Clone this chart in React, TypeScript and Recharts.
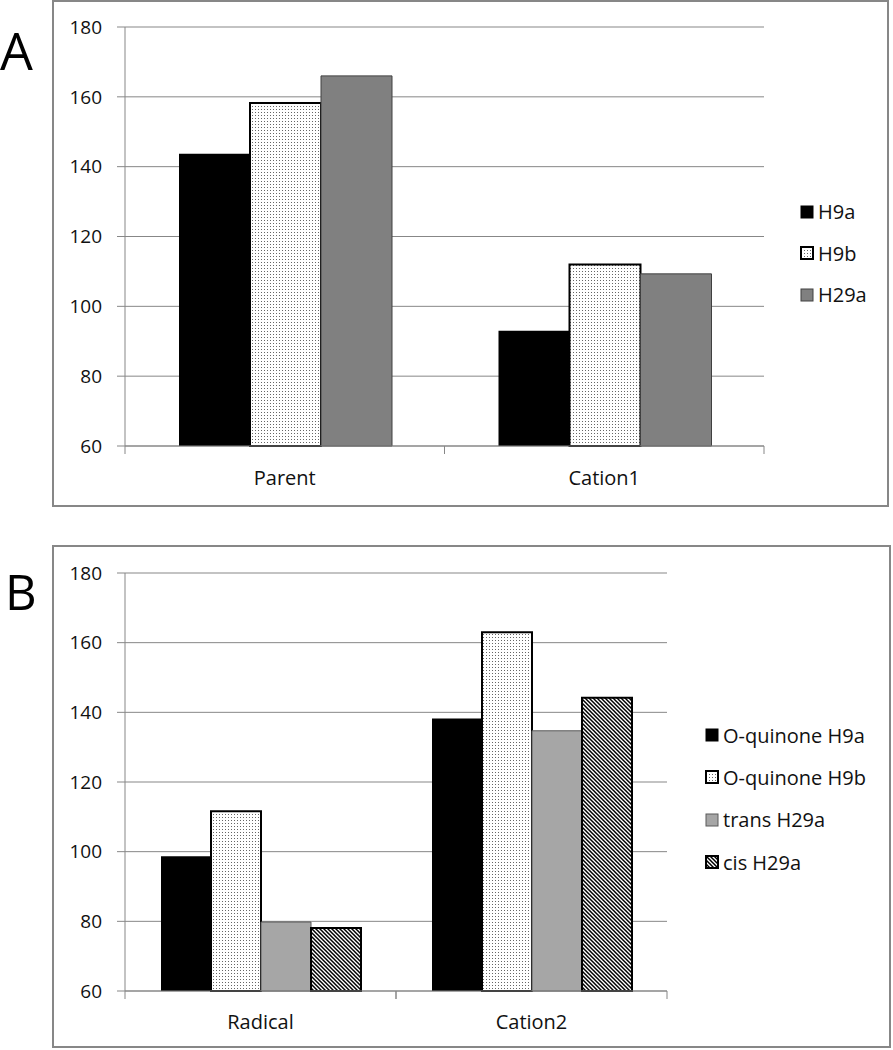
import { BarChart, Bar, XAxis, YAxis, CartesianGrid, Legend } from "recharts";

// panel A
const categoriesA = ["Parent", "Cation1"];
const h9aValues = [143.7, 93.0];
const h9bValues = [158.2, 112.0];
const h29aValues = [166.0, 109.3];

// panel B
const categoriesB = ["Radical", "Cation2"];
const oqH9aValues = [98.7, 138.2];
const oqH9bValues = [111.6, 163.0];
const transH29aValues = [79.8, 134.7];
const cisH29aValues = [78.1, 144.2];

const yTicks = [60, 80, 100, 120, 140, 160, 180];

const dataA = categoriesA.map((c, i) => ({
  name: c,
  h9a: h9aValues[i],
  h9b: h9bValues[i],
  h29a: h29aValues[i],
}));

const dataB = categoriesB.map((c, i) => ({
  name: c,
  oqH9a: oqH9aValues[i],
  oqH9b: oqH9bValues[i],
  trans: transH29aValues[i],
  cis: cisH29aValues[i],
}));

type Series = {
  key: string;
  name: string;
  fill: string;
  stroke: string;
  strokeWidth: number;
};

const seriesA: Series[] = [
  { key: "h9a", name: "H9a", fill: "#000000", stroke: "none", strokeWidth: 0 },
  { key: "h9b", name: "H9b", fill: "url(#dots)", stroke: "#000000", strokeWidth: 2 },
  { key: "h29a", name: "H29a", fill: "#808080", stroke: "#404040", strokeWidth: 1 },
];

const seriesB: Series[] = [
  { key: "oqH9a", name: "O-quinone H9a", fill: "#000000", stroke: "none", strokeWidth: 0 },
  { key: "oqH9b", name: "O-quinone H9b", fill: "url(#dots)", stroke: "#000000", strokeWidth: 2 },
  { key: "trans", name: "trans H29a", fill: "#a6a6a6", stroke: "#5a5a5a", strokeWidth: 1 },
  { key: "cis", name: "cis H29a", fill: "url(#hatch)", stroke: "#000000", strokeWidth: 2 },
];

const axisColor = "#878787";
const textColor = "#111111";

function CategoryTick(props: any) {
  const { x, y, payload, width, visibleTicksCount, labelOffset } = props;
  const half = width / (visibleTicksCount || 2) / 2;
  return (
    <g>
      <line x1={x - half} x2={x - half} y1={y} y2={y + 8} stroke={axisColor} />
      <line x1={x + half} x2={x + half} y1={y} y2={y + 8} stroke={axisColor} />
      <text
        x={x}
        y={y + labelOffset}
        textAnchor="middle"
        dominantBaseline="central"
        fontSize={20}
        fill={textColor}
      >
        {payload.value}
      </text>
    </g>
  );
}

function makeLegend(series: Series[], itemHeight: number) {
  return () => (
    <div>
      {series.map((s) => (
        <div
          key={s.key}
          style={{ display: "flex", alignItems: "center", height: itemHeight }}
        >
          <svg width={14} height={14}>
            <rect
              x={1}
              y={1}
              width={12}
              height={12}
              fill={s.fill}
              stroke={s.stroke === "none" ? s.fill : s.stroke}
              strokeWidth={s.strokeWidth || 1}
            />
          </svg>
          <span
            style={{ marginLeft: 4, fontSize: 20, color: textColor, whiteSpace: "nowrap" }}
          >
            {s.name}
          </span>
        </div>
      ))}
    </div>
  );
}

export default function App() {
  return (
    <div
      style={{
        position: "absolute",
        left: 0,
        top: 0,
        width: 893,
        height: 1050,
        background: "#ffffff",
        fontFamily: "'Open Sans', 'Noto Sans', sans-serif",
      }}
    >
      <svg width={0} height={0} style={{ position: "absolute" }}>
        <defs>
          <pattern id="dots" width={3} height={3} patternUnits="userSpaceOnUse">
            <rect width={3} height={3} fill="#ffffff" />
            <rect x={1} y={1} width={1} height={1} fill="#666666" />
          </pattern>
          <pattern id="hatch" width={4} height={4} patternUnits="userSpaceOnUse">
            <rect width={4} height={4} fill="#ffffff" />
            <path
              d="M-1,3 l2,2 M0,0 l4,4 M3,-1 l2,2"
              stroke="#000000"
              strokeWidth={1.5}
            />
          </pattern>
        </defs>
      </svg>

      <svg
        width={893}
        height={1050}
        style={{ position: "absolute", left: 0, top: 0, pointerEvents: "none" }}
      >
        <text x={0} y={70} fontSize={52} fill="#000">A</text>
        <text x={5} y={610} fontSize={49} fill="#000">B</text>
      </svg>

      <div
        style={{
          position: "absolute",
          left: 52,
          top: 0,
          width: 837,
          height: 507,
          border: `2px solid ${axisColor}`,
          boxSizing: "border-box",
        }}
      />
      <div style={{ position: "absolute", left: 53, top: 0 }}>
        <BarChart
          width={838}
          height={507}
          data={dataA}
          margin={{ top: 27, right: 127, bottom: 0, left: 0 }}
          barCategoryGap={54}
          barGap={0}
        >
          <CartesianGrid vertical={false} stroke={axisColor} />
          <XAxis
            dataKey="name"
            height={61}
            tickSize={0}
            tickMargin={0}
            tickLine={false}
            stroke={axisColor}
            tick={<CategoryTick labelOffset={31} />}
          />
          <YAxis
            width={72}
            domain={[60, 180]}
            ticks={yTicks}
            tickSize={8}
            tickMargin={15}
            stroke={axisColor}
            tick={{ fontSize: 19, fill: textColor }}
          />
          <Legend
            layout="vertical"
            align="center"
            verticalAlign="middle"
            wrapperStyle={{ left: 747, top: 191 }}
            content={makeLegend(seriesA, 41.6)}
          />
          {seriesA.map((s) => (
            <Bar
              key={s.key}
              dataKey={s.key}
              name={s.name}
              fill={s.fill}
              stroke={s.stroke}
              strokeWidth={s.strokeWidth}
              isAnimationActive={false}
            />
          ))}
        </BarChart>
      </div>

      <div
        style={{
          position: "absolute",
          left: 52,
          top: 545,
          width: 839,
          height: 503,
          border: `2px solid ${axisColor}`,
          boxSizing: "border-box",
        }}
      />
      <div style={{ position: "absolute", left: 53, top: 546 }}>
        <BarChart
          width={838}
          height={501}
          data={dataB}
          margin={{ top: 27, right: 224, bottom: 0, left: 0 }}
          barCategoryGap={36}
          barGap={0}
        >
          <CartesianGrid vertical={false} stroke={axisColor} />
          <XAxis
            dataKey="name"
            height={56}
            tickSize={0}
            tickMargin={0}
            tickLine={false}
            stroke={axisColor}
            tick={<CategoryTick labelOffset={30} />}
          />
          <YAxis
            width={72}
            domain={[60, 180]}
            ticks={yTicks}
            tickSize={8}
            tickMargin={15}
            stroke={axisColor}
            tick={{ fontSize: 19, fill: textColor }}
          />
          <Legend
            layout="vertical"
            align="center"
            verticalAlign="middle"
            wrapperStyle={{ left: 652, top: 168 }}
            content={makeLegend(seriesB, 42.3)}
          />
          {seriesB.map((s) => (
            <Bar
              key={s.key}
              dataKey={s.key}
              name={s.name}
              fill={s.fill}
              stroke={s.stroke}
              strokeWidth={s.strokeWidth}
              isAnimationActive={false}
            />
          ))}
        </BarChart>
      </div>
    </div>
  );
}
